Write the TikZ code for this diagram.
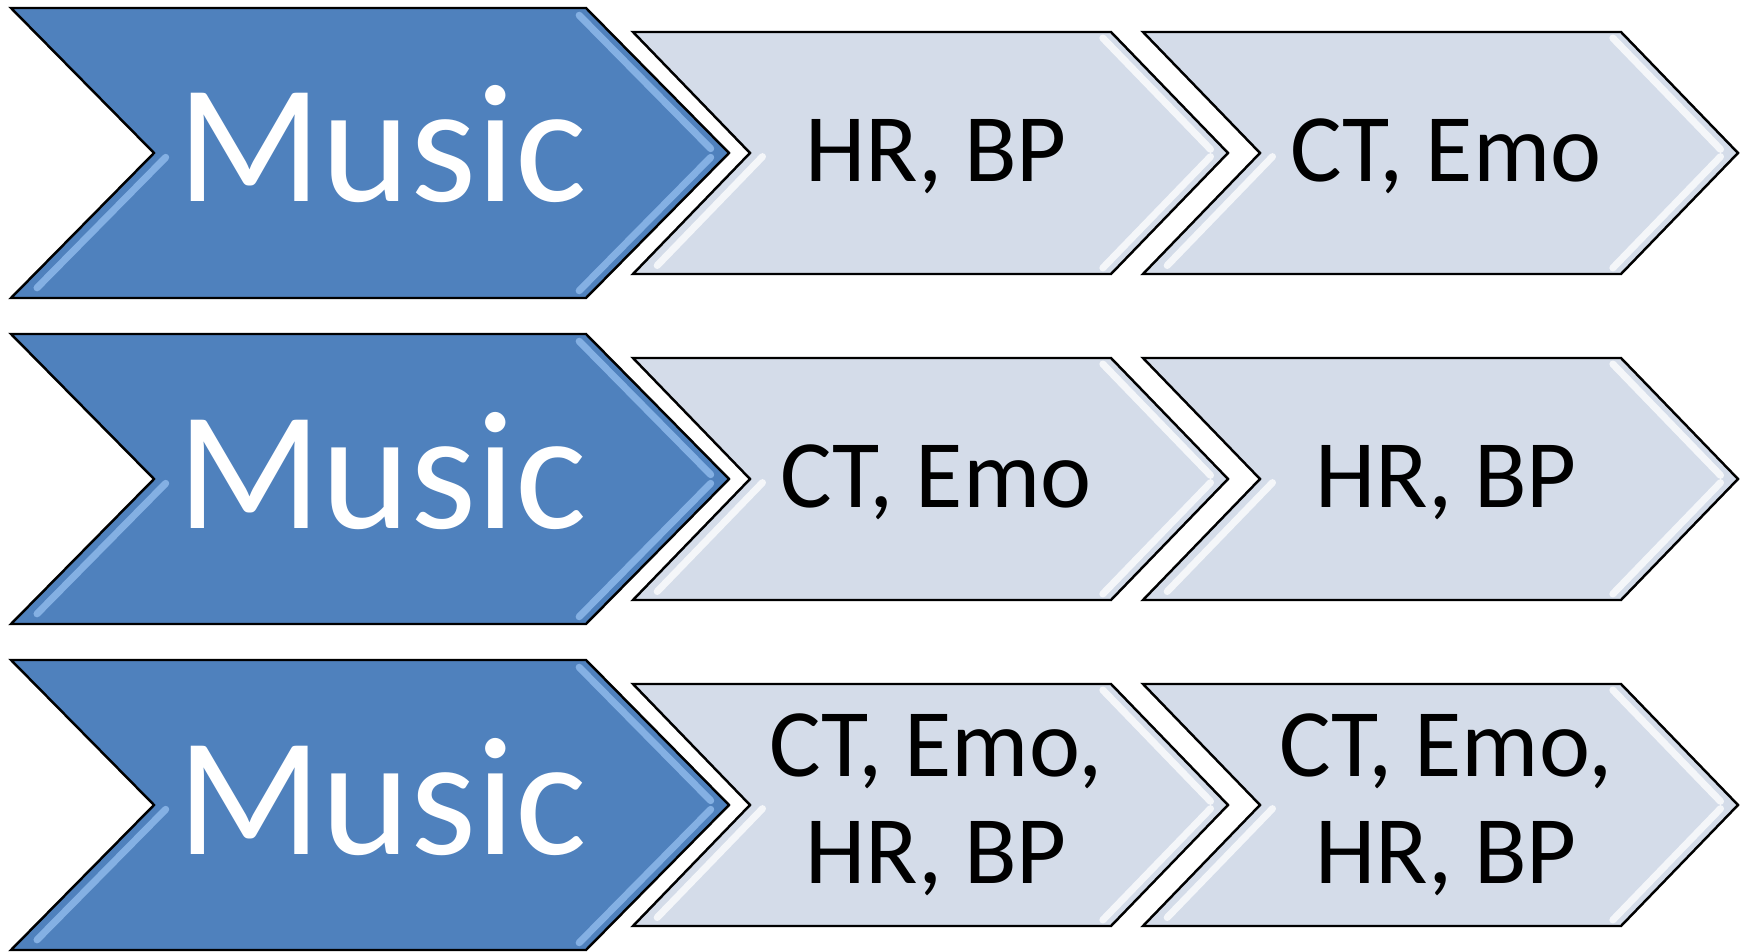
\documentclass[tikz,border=0pt]{standalone}
\usepackage{fontspec}
\setmainfont{Carlito}

\definecolor{musicblue}{RGB}{79,129,189}
\definecolor{musicglint}{RGB}{150,192,240}
\definecolor{signalgray}{RGB}{212,220,233}

% #1 fill style, #2 glint colour, #3 left x, #4 right x, #5 centre y, #6 half height, #7 depth
\newcommand{\arrowbox}[7]{%
  \draw[#1] (#3,{#5-#6}) -- (#4,{#5-#6}) -- ({#4+#7},#5) -- (#4,{#5+#6})
    -- (#3,{#5+#6}) -- ({#3+#7},#5) -- cycle;
  \draw[glint, #2] ({#4-14+0.05*#7},{#5-0.95*#6}) -- ({#4-14+0.97*#7},{#5-0.03*#6});
  \draw[glint, #2] ({#4-14+0.97*#7},{#5+0.03*#6}) -- ({#4-14+0.05*#7},{#5+0.95*#6});
  \draw[glint, #2] ({#3+16+0.97*#7},{#5+0.03*#6}) -- ({#3+16+0.07*#7},{#5+0.93*#6});
}

\begin{document}
\begin{tikzpicture}[x=0.01cm, y=-0.01cm,
    bluebox/.style={draw=black, line width=0.7pt, fill=musicblue},
    graybox/.style={draw=black, line width=0.7pt, fill=signalgray},
    glint/.style={line width=2pt, line cap=round, opacity=0.75},
    musictext/.style={text=white, font=\fontsize{48}{50}\selectfont, inner sep=0pt},
    signaltext/.style={text=black, font=\fontsize{27.5}{30.2}\selectfont, align=center, inner sep=0pt}]
  \useasboundingbox (0,0) rectangle (1748,952);

  % row 1
  \arrowbox{bluebox}{musicglint}{11}{586}{153}{145}{143}
  \arrowbox{graybox}{white}{633}{1111}{153}{121}{117}
  \arrowbox{graybox}{white}{1143}{1621}{153}{121}{117}
  \node[musictext, anchor=base] (music1) at (382,202) {Music};
  \node[signaltext, anchor=base] (first1) at (936,182) {HR, BP};
  \node[signaltext, anchor=base] (second1) at (1446,182) {CT, Emo};

  % row 2
  \arrowbox{bluebox}{musicglint}{11}{586}{479}{145}{143}
  \arrowbox{graybox}{white}{633}{1111}{479}{121}{117}
  \arrowbox{graybox}{white}{1143}{1621}{479}{121}{117}
  \node[musictext, anchor=base] (music2) at (382,528) {Music};
  \node[signaltext, anchor=base] (first2) at (936,508) {CT, Emo};
  \node[signaltext, anchor=base] (second2) at (1446,508) {HR, BP};

  % row 3
  \arrowbox{bluebox}{musicglint}{11}{586}{805}{145}{143}
  \arrowbox{graybox}{white}{633}{1111}{805}{121}{117}
  \arrowbox{graybox}{white}{1143}{1621}{805}{121}{117}
  \node[musictext, anchor=base] (music3) at (382,854) {Music};
  \node[signaltext, anchor=base] (first3) at (936,883) {CT, Emo,\\HR, BP};
  \node[signaltext, anchor=base] (second3) at (1446,883) {CT, Emo,\\HR, BP};
\end{tikzpicture}
\end{document}
